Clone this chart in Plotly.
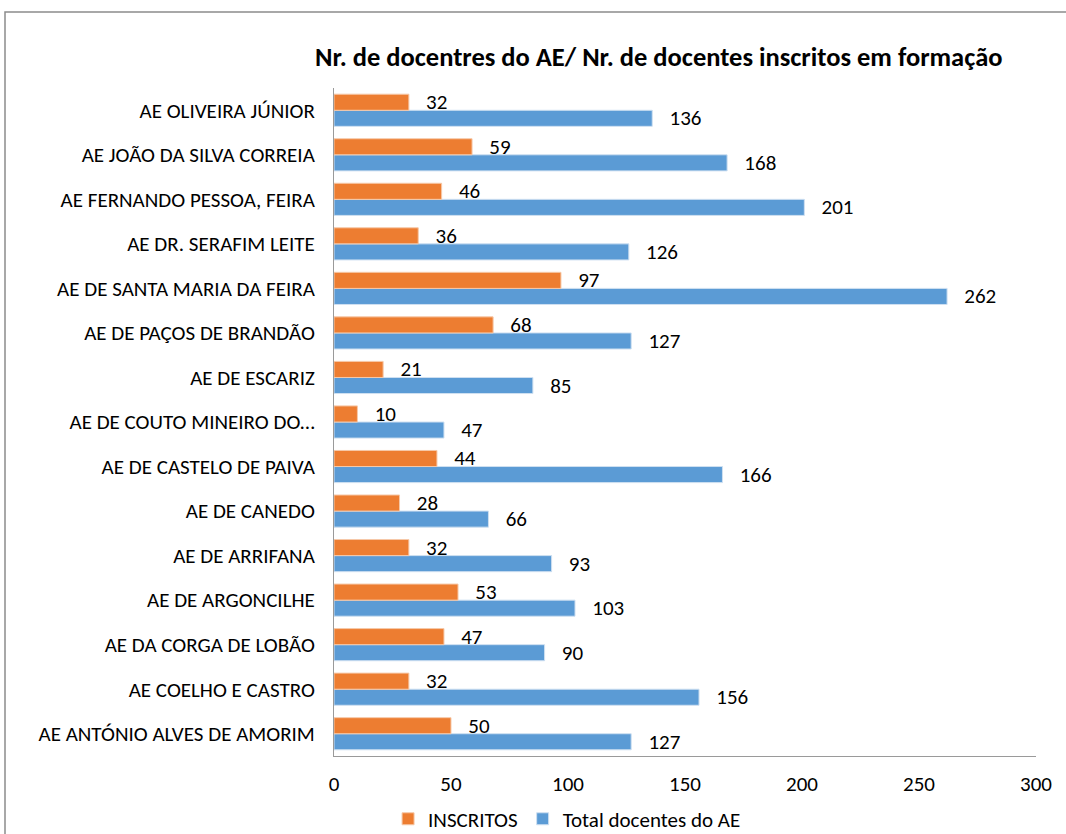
import plotly.graph_objects as go

categories = [
    "AE ANTÓNIO ALVES DE AMORIM",
    "AE COELHO E CASTRO",
    "AE DA CORGA DE LOBÃO",
    "AE DE ARGONCILHE",
    "AE DE ARRIFANA",
    "AE DE CANEDO",
    "AE DE CASTELO DE PAIVA",
    "AE DE COUTO MINEIRO DO…",
    "AE DE ESCARIZ",
    "AE DE PAÇOS DE BRANDÃO",
    "AE DE SANTA MARIA DA FEIRA",
    "AE DR. SERAFIM LEITE",
    "AE FERNANDO PESSOA, FEIRA",
    "AE JOÃO DA SILVA CORREIA",
    "AE OLIVEIRA JÚNIOR",
]
inscritos = [50, 32, 47, 53, 32, 28, 44, 10, 21, 68, 97, 36, 46, 59, 32]
total_docentes = [127, 156, 90, 103, 93, 66, 166, 47, 85, 127, 262, 126, 201, 168, 136]
x_ticks = [0, 50, 100, 150, 200, 250, 300]

FONT = "Carlito, Calibri, 'Liberation Sans', sans-serif"
ORANGE = "#ED7D31"
BLUE = "#5B9BD5"
PAD = "\u00a0\u00a0\u00a0"

fig = go.Figure()
fig.add_trace(go.Bar(
    y=categories, x=total_docentes, orientation="h", name="Total docentes do AE",
    marker=dict(color=BLUE, line=dict(color="#cfe0f1", width=1)),
    texttemplate=PAD + "%{x}", textposition="outside", cliponaxis=False,
    constraintext="none",
    textfont=dict(size=21, color="#000000", family=FONT), legendrank=2,
))
fig.add_trace(go.Bar(
    y=categories, x=inscritos, orientation="h", name="INSCRITOS",
    marker=dict(color=ORANGE, line=dict(color="#f6c9a9", width=1)),
    texttemplate=PAD + "%{x}", textposition="outside", cliponaxis=False,
    constraintext="none",
    textfont=dict(size=21, color="#000000", family=FONT), legendrank=1,
))

fig.update_layout(
    width=1066, height=834,
    paper_bgcolor="white", plot_bgcolor="white",
    barmode="group", bargap=0.278, bargroupgap=0,
    margin=dict(l=334, r=30, t=88, b=78, autoexpand=False),
    font=dict(family=FONT, size=21, color="#000000"),
    title=dict(
        text="<b>Nr. de docentres do AE/ Nr. de docentes inscritos em formação</b>",
        x=0.618, xanchor="center", y=0.9317, yanchor="middle",
        font=dict(size=26.5, family=FONT, color="#000000"),
    ),
    xaxis=dict(
        range=[0, 300], tickvals=x_ticks, showgrid=False, zeroline=False,
        showline=True, linecolor="#9A9A9A", linewidth=1, ticks="",
        tickfont=dict(size=21), ticklabelstandoff=9,
    ),
    yaxis=dict(
        showgrid=False, zeroline=False, showline=True, linecolor="#9A9A9A",
        linewidth=1, ticks="", tickfont=dict(size=21), ticklabelstandoff=14,
    ),
    legend=dict(
        orientation="h", x=0.332, xanchor="center", y=-0.0945, yanchor="middle",
        font=dict(size=21), itemwidth=30, traceorder="normal",
    ),
    shapes=[dict(
        type="rect", xref="paper", yref="paper",
        x0=(5 - 334) / 702, x1=1.2, y0=-0.3, y1=(756 - 12) / 668,
        line=dict(color="#8C8C8C", width=1.5), fillcolor="rgba(0,0,0,0)", layer="below",
    )],
)

fig.write_html(
    "out.html",
    config={"displayModeBar": False},
    post_script="document.body.style.margin='0';document.body.style.overflow='hidden';",
)
